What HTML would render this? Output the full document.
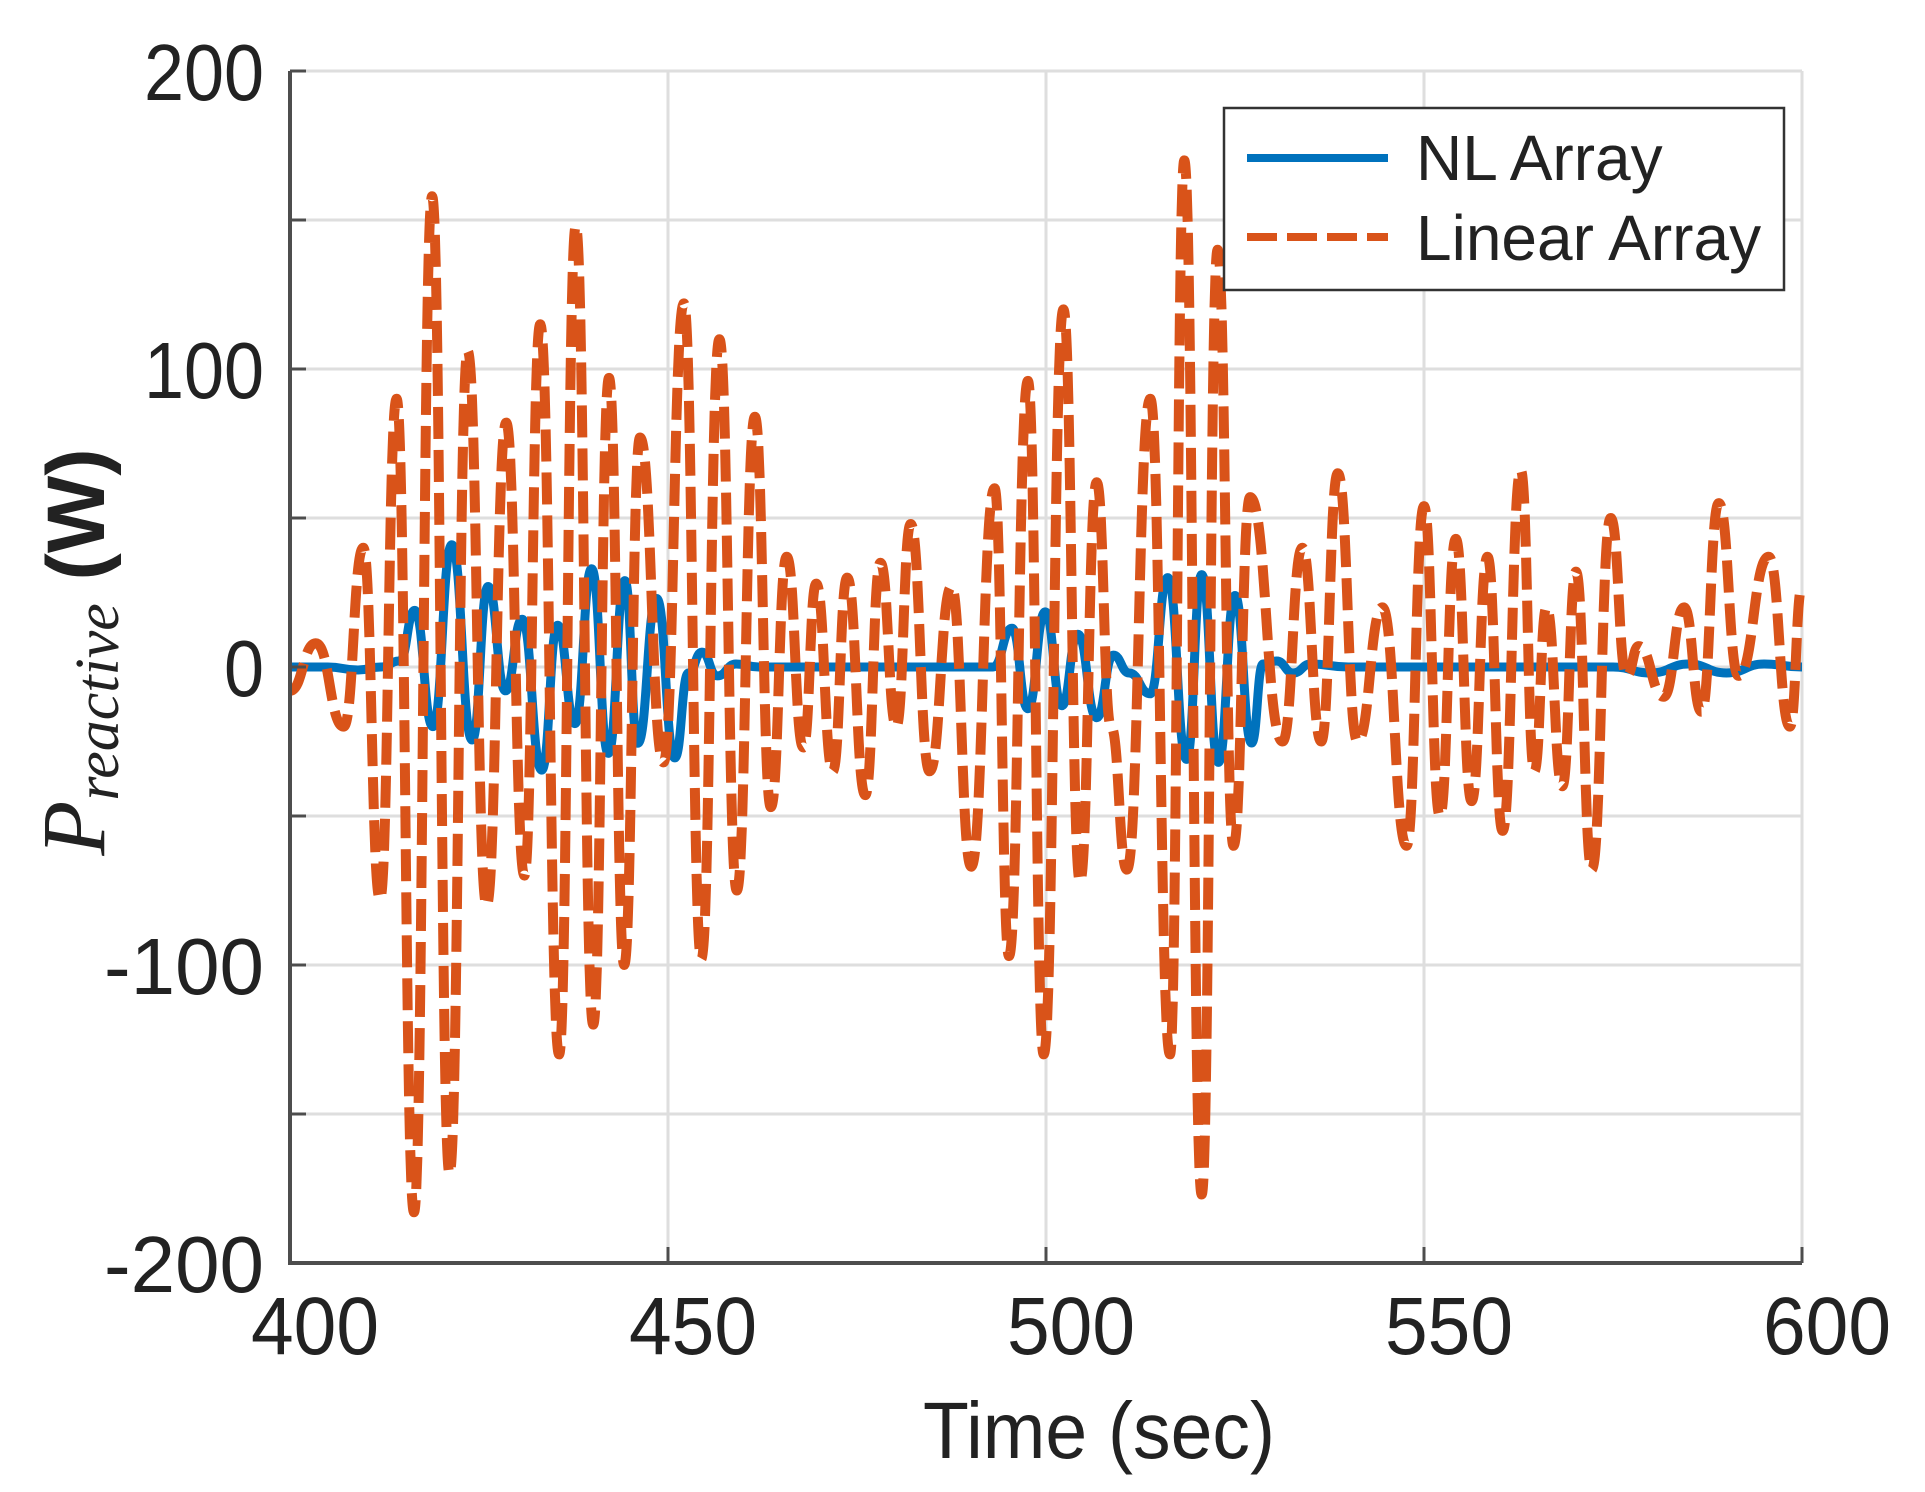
<!DOCTYPE html>
<html><head><meta charset="utf-8">
<style>
html,body{margin:0;padding:0;background:#fff;}
svg{display:block;}
text{font-family:"Liberation Sans",sans-serif;fill:#222;}
</style></head>
<body>
<svg id="chart" width="1925" height="1492" viewBox="0 0 1925 1492">
  <g id="grid"></g>
  <g id="series"></g>
  <g id="axes"></g>
  <text x="1099" y="1458" font-size="80" text-anchor="middle" textLength="352" lengthAdjust="spacingAndGlyphs">Time (sec)</text>
  <g transform="translate(104,652) rotate(-90)">
    <text text-anchor="middle" font-size="82"><tspan font-family="Liberation Serif, serif" font-style="italic" font-size="90">P</tspan><tspan font-family="Liberation Serif, serif" font-style="italic" font-size="62" dy="14">reactive</tspan><tspan dy="-14" font-weight="bold"> (W)</tspan></text>
  </g>
  <g>
    <rect x="1224" y="108" width="560" height="182" fill="#fff" stroke="#333" stroke-width="2.5"/>
    <line x1="1247" y1="158" x2="1388" y2="158" stroke="#0072BD" stroke-width="8"/>
    <text x="1416" y="180" font-size="64">NL Array</text>
    <line x1="1247" y1="237" x2="1388" y2="237" stroke="#D95319" stroke-width="8" stroke-dasharray="30,10"/>
    <text x="1416" y="260" font-size="64">Linear Array</text>
  </g>
</svg>
<script>
const xTicks = [400, 450, 500, 550, 600];
const yGridTicks = [-200, -150, -100, -50, 0, 50, 100, 150, 200];
const yTickLabels = [-200, -100, 0, 100, 200];

const linT = [400,403.4,407.1,409.7,411.9,414.1,416.4,418.8,421.1,423.5,426.0,428.6,431.0,433.1,435.6,437.8,440.1,442.2,444.2,446.3,449.4,452.1,454.4,456.8,459.1,461.5,463.6,465.7,467.9,469.6,471.8,473.7,476.1,478.1,480.2,482.1,484.6,487.5,490.1,493.2,495.1,497.6,499.7,502.3,504.5,506.7,508.6,510.7,513.8,516.4,518.3,520.6,522.7,524.8,527.0,531.3,533.9,536.4,538.6,541.2,544.5,547.7,550.0,552.1,554.2,556.3,558.4,560.4,562.8,564.6,566.2,568.3,570.1,572.2,574.7,576.8,578.4,581.7,584.4,586.7,589.0,591.6,595.6,598.4,600];
const linV = [-8,8,-20,40,-78,90,-183,158,-170,106,-80,82,-70,115,-130,148,-120,97,-100,77,-32,122,-98,110,-75,84,-47,37,-27,28,-35,30,-43,35,-20,48,-35,27,-67,60,-97,96,-130,120,-72,62,-20,-68,90,-130,170,-177,140,-60,57,-25,40,-25,65,-25,20,-60,54,-50,43,-45,37,-55,66,-35,20,-40,32,-68,50,-3,7,-10,20,-15,55,-3,37,-20,27];

const nlT = [400,405,409,412,414.5,416.5,418.9,421.4,424.1,426.2,428.5,430.7,433.3,435.4,437.7,439.9,442.1,444.3,446,448.5,450.9,452.7,454.5,456.5,459,462,470,480,490,493,495.5,497.6,499.9,502.1,504.2,506.7,508.9,511,513.8,516.1,518.6,520.6,522.8,525,527.2,528.7,530.5,532.7,535,540,560,575,580,585,590,595,600];
const nlV = [0,0,-1,0,2,19,-20,41,-24.5,27,-8,16,-34.6,14,-19,33,-29,29,-25.6,23,-30.5,-2,5,-3,1,0,0,0,0,0,13,-14,18.5,-13,11,-17,4,-2,-9,30,-31,31,-32,24,-25.5,1,2,-2,1,0,0,0,-2,1,-2,1,0];

const X0 = 290, X1 = 1802, Y0 = 71, Y1 = 1263;
const xs = t => X0 + (t - 400) / 200 * (X1 - X0);
const ys = v => Y1 - (v + 200) / 400 * (Y1 - Y0);
const NS = 'http://www.w3.org/2000/svg';
function mk(tag, attrs, parent) {
  const e = document.createElementNS(NS, tag);
  for (const k in attrs) e.setAttribute(k, attrs[k]);
  parent.appendChild(e);
  return e;
}
const grid = document.getElementById('grid');
const axes = document.getElementById('axes');
const series = document.getElementById('series');

xTicks.forEach(t => {
  if (t === 400) return;
  const l = mk('line', {x1: xs(t), x2: xs(t), y1: Y0, y2: Y1, stroke: '#dedede', 'stroke-width': 3}, grid);
  
  
});
yGridTicks.forEach(v => {
  if (v === -200) return;
  const l = mk('line', {x1: X0, x2: X1, y1: ys(v), y2: ys(v), stroke: '#dedede', 'stroke-width': 3}, grid);
  
  
  const tk = mk('line', {x1: X0, x2: X0 + 16, y1: ys(v), y2: ys(v), stroke: '#4d4d4d', 'stroke-width': 3}, axes);
  
  
});
xTicks.forEach(t => {
  const tk = mk('line', {x1: xs(t), x2: xs(t), y1: Y1, y2: Y1 - 16, stroke: '#4d4d4d', 'stroke-width': 3}, axes);
  
  
  const tx = mk('text', {x: xs(t) + 25, y: 1354, 'font-size': 82, 'text-anchor': 'middle', textLength: 128, lengthAdjust: 'spacingAndGlyphs'}, axes);
  tx.textContent = t;
  
  
});
yTickLabels.forEach(v => {
  const s = String(v);
  const tx = mk('text', {x: 264, y: ys(v) + 29, 'font-size': 80, 'text-anchor': 'end', textLength: s.length * 40, lengthAdjust: 'spacingAndGlyphs'}, axes);
  tx.textContent = s;
  
  
});
const ax = mk('path', {d: `M${X0},${Y0} L${X0},${Y1} L${X1},${Y1}`, fill: 'none', stroke: '#4d4d4d', 'stroke-width': 4}, axes);



function smoothPath(T, V) {
  let d = `M${xs(T[0]).toFixed(1)},${ys(V[0]).toFixed(1)}`;
  for (let i = 1; i < T.length; i++) {
    const xa = xs(T[i - 1]), ya = ys(V[i - 1]), xb = xs(T[i]), yb = ys(V[i]);
    const h = (xb - xa) / 2;
    d += ` C${(xa + h).toFixed(1)},${ya.toFixed(1)} ${(xb - h).toFixed(1)},${yb.toFixed(1)} ${xb.toFixed(1)},${yb.toFixed(1)}`;
  }
  return d;
}
const nl = mk('path', {d: smoothPath(nlT, nlV), fill: 'none', stroke: '#0072BD', 'stroke-width': 9, 'stroke-linejoin': 'round'}, series);


const lin = mk('path', {d: smoothPath(linT, linV), fill: 'none', stroke: '#D95319', 'stroke-width': 10, 'stroke-dasharray': '32,11'}, series);


</script>
</body></html>
